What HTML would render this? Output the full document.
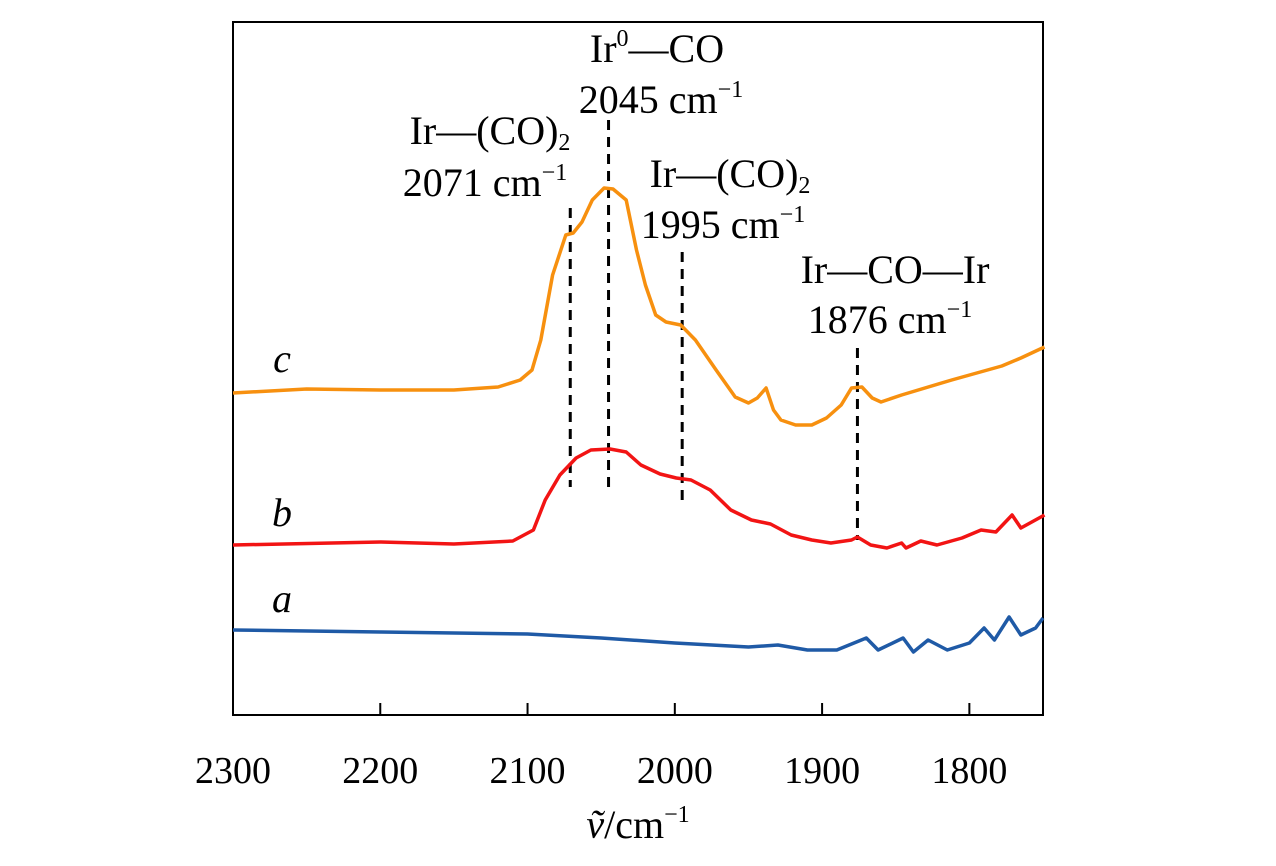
<!DOCTYPE html>
<html><head><meta charset="utf-8"><style>
html,body{margin:0;padding:0;background:#fff;}
svg{display:block;font-family:"Liberation Serif",serif;}
</style></head><body>
<svg id="chart" width="1276" height="866">
<rect x="233" y="22" width="810" height="693" fill="none" stroke="#000" stroke-width="2"/>
<g id="ticks"></g>
<g id="dash"></g>
<g id="lines"></g>
<g font-size="40" text-anchor="middle" fill="#000">
<text x="657" y="62">Ir<tspan font-size="24" dy="-16">0</tspan><tspan dy="16">—CO</tspan></text>
<text x="661" y="113">2045 cm<tspan font-size="24" dy="-16">−1</tspan></text>
<text x="490" y="144">Ir—(CO)<tspan font-size="24" dy="6">2</tspan></text>
<text x="485" y="196">2071 cm<tspan font-size="24" dy="-16">−1</tspan></text>
<text x="730" y="187">Ir—(CO)<tspan font-size="24" dy="6">2</tspan></text>
<text x="723" y="238">1995 cm<tspan font-size="24" dy="-16">−1</tspan></text>
<text x="895" y="283">Ir—CO—Ir</text>
<text x="890" y="333">1876 cm<tspan font-size="24" dy="-16">−1</tspan></text>
<text x="282" y="372" font-style="italic">c</text>
<text x="282" y="526" font-style="italic">b</text>
<text x="282" y="612" font-style="italic">a</text>
<text x="638" y="838"><tspan font-style="italic">ṽ</tspan>/cm<tspan font-size="24" dy="-16">−1</tspan></text>
</g>
</svg>
<script>
const xTicks=[2300,2200,2100,2000,1900,1800];
const cX=[2300,2250,2200,2150,2120,2105,2097,2091,2083,2074,2069,2063,2056,2048,2042,2033,2026,2020,2013,2006,1996,1986,1972,1959,1950,1944,1938,1933,1928,1918,1907,1897,1887,1880,1873,1866,1860,1846,1812,1778,1765,1749];
const cY=[322,326,325,325,328,335,345,375,440,480,482,493,515,527,526,515,465,430,400,393,390,375,345,318,312,317,327,305,295,290,290,297,310,327,328,317,313,320,335,349,357,368];
const bX=[2300,2200,2150,2110,2096,2088,2078,2067,2057,2044,2033,2023,2010,1999,1989,1976,1962,1948,1935,1921,1907,1894,1880,1876,1867,1856,1846,1843,1833,1822,1805,1792,1782,1771,1765,1749];
const bY=[170,173,171,174,185,215,240,257,265,266,263,250,241,237,235,225,205,195,191,180,175,172,175,178,170,167,172,167,174,170,177,185,183,200,187,200];
const aX=[2300,2200,2100,2050,2000,1950,1930,1910,1890,1870,1862,1845,1838,1828,1815,1800,1790,1783,1773,1765,1755,1750];
const aY=[85,83,81,77,72,68,70,65,65,77,65,77,63,75,65,72,87,75,98,80,87,97];
const markX=[2071,2045,1995,1876];
const markTop=[507,595,463,367];
const markBot=[228,228,210,175];
const ns="http://www.w3.org/2000/svg";
const xS=v=>233+(2300-v)*(810/550);
const yS=v=>715-v;
const tg=document.getElementById('ticks');
xTicks.forEach(t=>{
 const l=document.createElementNS(ns,'line');
 l.setAttribute('x1',xS(t));l.setAttribute('x2',xS(t));l.setAttribute('y1',715);l.setAttribute('y2',703);
 l.setAttribute('stroke','#000');l.setAttribute('stroke-width','2');
 
 
 tg.appendChild(l);
 const tx=document.createElementNS(ns,'text');
 tx.setAttribute('x',xS(t));tx.setAttribute('y',783);tx.setAttribute('text-anchor','middle');tx.setAttribute('font-size','38');
 tx.textContent=t;
 
 
 tg.appendChild(tx);
});
const dg=document.getElementById('dash');
markX.forEach((m,i)=>{
 const l=document.createElementNS(ns,'line');
 l.setAttribute('x1',xS(m));l.setAttribute('x2',xS(m));l.setAttribute('y1',yS(markTop[i]));l.setAttribute('y2',yS(markBot[i]));
 l.setAttribute('stroke','#000');l.setAttribute('stroke-width','3');l.setAttribute('stroke-dasharray','10,7');
 
 
 dg.appendChild(l);
});
const lg=document.getElementById('lines');
[[aX,aY,'#1f5aa6','series-a'],[bX,bY,'#f21414','series-b'],[cX,cY,'#f7900f','series-c']].forEach(s=>{
 const p=document.createElementNS(ns,'polyline');
 p.setAttribute('points',s[0].map((x,i)=>xS(x).toFixed(1)+','+yS(s[1][i]).toFixed(1)).join(' '));
 p.setAttribute('fill','none');p.setAttribute('stroke',s[2]);p.setAttribute('stroke-width','3.5');p.setAttribute('stroke-linejoin','round');
 
 
 lg.appendChild(p);
});
</script>
</body></html>
